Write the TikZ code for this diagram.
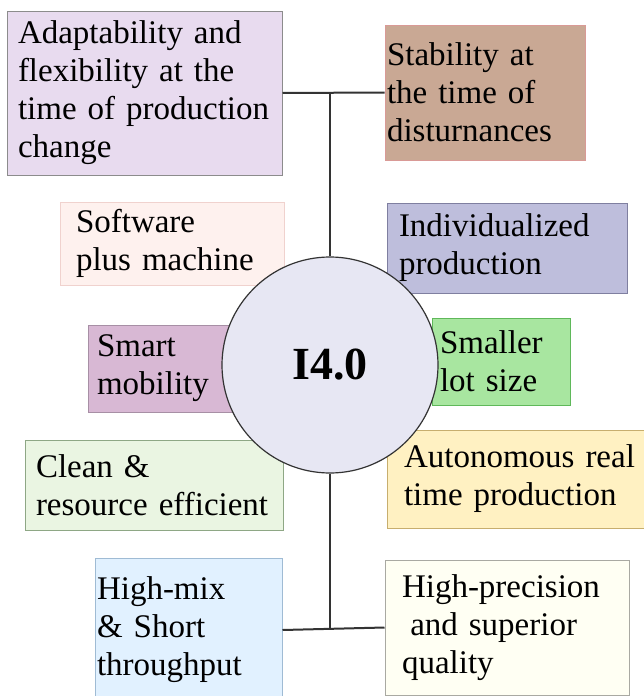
\documentclass[tikz,border=0pt]{standalone}
\usepackage{fontspec}
\setmainfont{Liberation Serif}
\usepackage{tikz}
\usepackage{xcolor}
\usetikzlibrary{positioning,calc}
\definecolor{ink}{HTML}{333333}
\definecolor{lavbg}{HTML}{E8DBEF}
\definecolor{lavdraw}{HTML}{8C8C8C}
\definecolor{tanbg}{HTML}{C9A894}
\definecolor{tandraw}{HTML}{D99A96}
\definecolor{pinkbg}{HTML}{FEF1EE}
\definecolor{pinkdraw}{HTML}{F0D2CE}
\definecolor{mauvebg}{HTML}{D8B8D4}
\definecolor{mauvedraw}{HTML}{A78FA5}
\definecolor{periwbg}{HTML}{BEBEDC}
\definecolor{periwdraw}{HTML}{7F7FA0}
\definecolor{greenbg}{HTML}{A8E6A0}
\definecolor{greendraw}{HTML}{5FB85A}
\definecolor{yellowbg}{HTML}{FFF1C2}
\definecolor{yellowdraw}{HTML}{C7AE6E}
\definecolor{mintbg}{HTML}{EAF5E2}
\definecolor{mintdraw}{HTML}{8EA785}
\definecolor{skybg}{HTML}{E1F1FF}
\definecolor{skydraw}{HTML}{9FBBD4}
\definecolor{creambg}{HTML}{FFFFF3}
\definecolor{creamdraw}{HTML}{A9A9A2}
\definecolor{hubbg}{HTML}{E7E7F3}
\tikzset{
  card/.style={draw,line width=1pt,align=left,inner ysep=2pt,
               font=\fontsize{33}{38}\selectfont},
  hub/.style={circle,draw=ink,fill=hubbg,line width=1.2pt,
              minimum size=216pt,inner sep=0pt,
              font=\fontsize{46}{50}\selectfont\bfseries},
  link/.style={draw=ink,line width=2pt}
}

\begin{document}
\begin{tikzpicture}[x=1pt,y=-1pt]
    \path[use as bounding box,fill=white] (0,0) rectangle (644,696);
    \node[card,fill=lavbg,draw=lavdraw,text width=253pt,inner xsep=11pt,
      minimum height=164pt] (adapt) at (144.5,93)
      {Adaptability and\\flexibility at the\\time of production\\change};
    \node[card,fill=tanbg,draw=tandraw,text width=196pt,inner xsep=2pt,
      minimum height=135pt] (stab) at (485,92.5)
      {Stability at\\the time of\\disturnances};
    \node[card,fill=pinkbg,draw=pinkdraw,text width=192pt,inner xsep=16pt,
      minimum height=83pt] (soft) at (172,243.5)
      {Software\\plus machine};
    \node[card,fill=mauvebg,draw=mauvedraw,text width=134pt,inner xsep=9pt,
      minimum height=87pt] (smart) at (164,368.5)
      {Smart\\mobility};
    \node[card,fill=periwbg,draw=periwdraw,text width=216pt,inner xsep=12pt,
      minimum height=90pt] (indiv) at (507,248)
      {Individualized\\production};
    \node[card,fill=greenbg,draw=greendraw,text width=122pt,inner xsep=8pt,
      minimum height=87pt] (small) at (501,361.5)
      {Smaller\\lot size};
    \node[card,fill=yellowbg,draw=yellowdraw,text width=239pt,inner xsep=17pt,
      minimum height=98pt] (auton) at (523.5,479)
      {Autonomous real\\time production};
    \node[card,fill=mintbg,draw=mintdraw,text width=236pt,inner xsep=11pt,
      minimum height=90pt] (clean) at (154,485)
      {Clean \&\\resource efficient};
    \node[card,fill=skybg,draw=skydraw,text width=183pt,inner xsep=2pt,
      minimum height=144pt] (mix) at (188.5,630)
      {High-mix\\\& Short\\throughput};
    \node[card,fill=creambg,draw=creamdraw,text width=210pt,inner xsep=17pt,
      minimum height=135pt] (prec) at (507,627.5)
      {High-precision\\\hspace*{0.25em}and superior\\quality};

    % centre
    \node[hub] (core) at (330,365) {I4.0};

    % connectors
    \coordinate (topjoin) at (core.north |- adapt.east);
    \coordinate (botjoin) at (core.south |- mix.east);
    \draw[link] (adapt.east) -- (stab.west);
    \draw[link] (topjoin) -- (core.north);
    \draw[link] (mix.east) -- (prec.west);
    \draw[link] (core.south) -- (botjoin);
  \end{tikzpicture}
\end{document}
